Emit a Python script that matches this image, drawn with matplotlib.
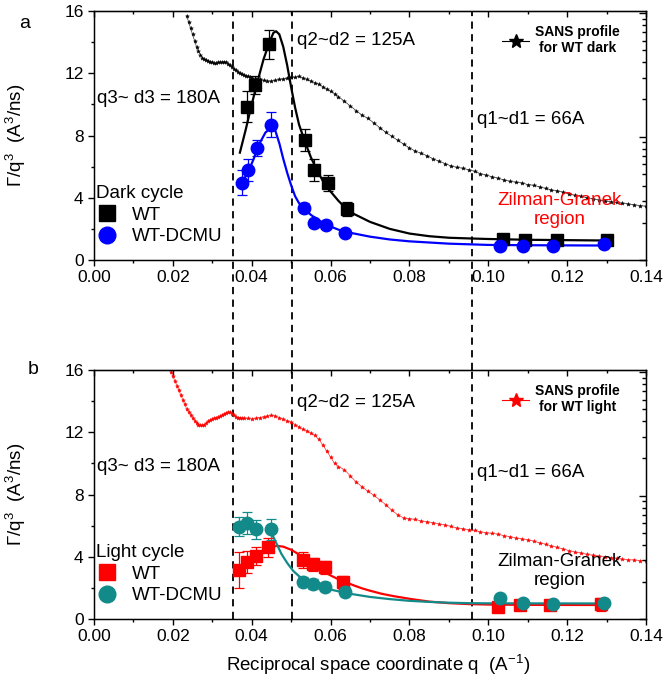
import matplotlib
matplotlib.use("Agg")
import matplotlib.pyplot as plt
from matplotlib.lines import Line2D
from matplotlib.ticker import AutoMinorLocator, LogLocator, NullFormatter

plt.rcParams['font.family'] = ['Liberation Sans', 'DejaVu Sans']
plt.rcParams['mathtext.fontset'] = 'custom'
plt.rcParams['mathtext.rm'] = 'Liberation Sans'
plt.rcParams['mathtext.it'] = 'Liberation Sans'
plt.rcParams['mathtext.default'] = 'regular'

# ---------------- Panel a : dark cycle ----------------
wt_dark_q = [0.0387, 0.0408, 0.0444, 0.0535, 0.0559, 0.0593, 0.0641, 0.1036, 0.1094, 0.1173, 0.1300]
wt_dark_y = [9.85, 11.25, 13.85, 7.7, 5.8, 4.95, 3.25, 1.33, 1.28, 1.28, 1.3]
wt_dark_err = [1.0, 0.6, 0.95, 0.7, 0.7, 0.5, 0.45, 0.15, 0.15, 0.15, 0.15]

dcmu_dark_q = [0.0375, 0.0391, 0.0413, 0.0449, 0.0533, 0.0558, 0.0588, 0.0637, 0.1030, 0.1087, 0.1165, 0.1293]
dcmu_dark_y = [4.97, 5.78, 7.18, 8.68, 3.36, 2.4, 2.25, 1.76, 0.88, 0.88, 0.88, 1.0]
dcmu_dark_err = [0.8, 0.7, 0.5, 0.8, 0.3, 0.25, 0.2, 0.2, 0.1, 0.1, 0.1, 0.15]

fit_wt_dark_q = [0.0370, 0.0385, 0.0400, 0.0415, 0.0430, 0.0445, 0.0455, 0.0462, 0.0470, 0.0480,
                 0.0490, 0.0500, 0.0510, 0.0520, 0.0535, 0.0550, 0.0565, 0.0580, 0.0600, 0.0620,
                 0.0640, 0.0660, 0.0680, 0.0700, 0.0750, 0.0800, 0.0850, 0.0900, 0.0960, 0.1000,
                 0.1100, 0.1310]
fit_wt_dark_y = [6.9, 8.4, 10.0, 11.5, 12.9, 14.0, 14.6, 14.7, 14.5, 13.7,
                 12.5, 11.1, 9.8, 8.7, 7.6, 6.6, 5.8, 5.1, 4.4, 3.8,
                 3.3, 2.95, 2.7, 2.45, 2.0, 1.7, 1.53, 1.43, 1.38, 1.35,
                 1.3, 1.25]

fit_dcmu_dark_q = [0.0375, 0.0390, 0.0405, 0.0420, 0.0435, 0.0450, 0.0460, 0.0470, 0.0480, 0.0490,
                   0.0500, 0.0510, 0.0520, 0.0535, 0.0550, 0.0570, 0.0590, 0.0620, 0.0650, 0.0700,
                   0.0750, 0.0800, 0.0900, 0.1000, 0.1100, 0.1300]
fit_dcmu_dark_y = [5.0, 5.6, 6.5, 7.5, 8.2, 8.5, 8.3, 7.5, 6.5, 5.6,
                   4.8, 4.1, 3.65, 3.25, 2.9, 2.55, 2.25, 1.95, 1.75, 1.5,
                   1.32, 1.2, 1.05, 0.97, 0.95, 0.93]

sans_dark_q = [0.0235, 0.0240, 0.0245, 0.0250, 0.0255, 0.0260, 0.0265, 0.0270, 0.0275, 0.0280,
               0.0285, 0.0290, 0.0295, 0.0300, 0.0305, 0.0310, 0.0315, 0.0320, 0.0325, 0.0330,
               0.0335, 0.0340, 0.0345, 0.0350, 0.0355, 0.0360, 0.0365, 0.0370, 0.0375, 0.0380,
               0.0385, 0.0390, 0.0395, 0.0400, 0.0410, 0.0420, 0.0430, 0.0440, 0.0450, 0.0460,
               0.0470, 0.0480, 0.0490, 0.0500, 0.0510, 0.0520, 0.0530, 0.0540, 0.0550, 0.0560,
               0.0570, 0.0580, 0.0590, 0.0600, 0.0610, 0.0620, 0.0635, 0.0650, 0.0665, 0.0680,
               0.0695, 0.0710, 0.0725, 0.0740, 0.0755, 0.0770, 0.0785, 0.0800, 0.0815, 0.0830,
               0.0845, 0.0860, 0.0875, 0.0890, 0.0905, 0.0920, 0.0935, 0.0950, 0.0965, 0.0980,
               0.0995, 0.1010, 0.1025, 0.1040, 0.1055, 0.1070, 0.1085, 0.1100, 0.1115, 0.1130,
               0.1145, 0.1160, 0.1175, 0.1190, 0.1205, 0.1220, 0.1235, 0.1250, 0.1265, 0.1280,
               0.1295, 0.1310, 0.1325, 0.1340, 0.1355, 0.1370, 0.1385, 0.1400]
sans_dark_y = [15.7, 15.3, 14.9, 14.5, 14.1, 13.7, 13.4, 13.2, 13.0, 12.9,
               12.85, 12.8, 12.75, 12.7, 12.65, 12.65, 12.7, 12.7, 12.7, 12.75,
               12.7, 12.6, 12.5, 12.4, 12.3, 12.2, 12.1, 12.0, 11.95, 11.9,
               11.85, 11.8, 11.75, 11.7, 11.65, 11.6, 11.55, 11.5, 11.5, 11.55,
               11.6, 11.65, 11.7, 11.75, 11.75, 11.8, 11.7, 11.6, 11.5, 11.4,
               11.3, 11.15, 11.0, 10.85, 10.7, 10.5, 10.2, 9.9, 9.6, 9.3,
               9.1, 8.8, 8.5, 8.2, 7.95, 7.7, 7.45, 7.2, 7.0, 6.85,
               6.7, 6.5, 6.35, 6.2, 6.05, 5.95, 5.9, 5.8, 5.7, 5.55,
               5.45, 5.35, 5.25, 5.15, 5.05, 5.0, 4.95, 4.85, 4.8, 4.7,
               4.6, 4.5, 4.45, 4.35, 4.25, 4.15, 4.1, 4.0, 3.95, 3.85,
               3.8, 3.75, 3.7, 3.65, 3.6, 3.55, 3.5, 3.45]

# ---------------- Panel b : light cycle ----------------
wt_light_q = [0.0368, 0.0387, 0.0411, 0.0442, 0.0531, 0.0555, 0.0586, 0.0632, 0.1025, 0.1080, 0.1157, 0.1286]
wt_light_y = [3.15, 3.68, 4.05, 4.6, 3.79, 3.51, 3.32, 2.36, 0.79, 0.9, 0.9, 0.94]
wt_light_err = [1.15, 0.7, 0.6, 0.6, 0.5, 0.4, 0.4, 0.4, 0.2, 0.2, 0.2, 0.4]

dcmu_light_q = [0.0368, 0.0389, 0.0411, 0.0448, 0.0529, 0.0555, 0.0586, 0.0637, 0.1030, 0.1087, 0.1165, 0.1293]
dcmu_light_y = [5.93, 6.15, 5.76, 5.76, 2.4, 2.25, 2.08, 1.76, 1.33, 1.05, 0.96, 1.05]
dcmu_light_err = [0.6, 0.7, 0.6, 0.7, 0.3, 0.3, 0.3, 0.3, 0.15, 0.15, 0.15, 0.2]

fit_wt_light_q = [0.0450, 0.0465, 0.0480, 0.0500, 0.0520, 0.0540, 0.0560, 0.0580, 0.0600, 0.0620,
                  0.0640, 0.0660, 0.0680, 0.0700, 0.0730, 0.0760, 0.0800, 0.0850, 0.0900, 0.0950,
                  0.1000, 0.1100, 0.1300]
fit_wt_light_y = [4.65, 4.7, 4.65, 4.45, 4.15, 3.8, 3.45, 3.1, 2.8, 2.55,
                  2.35, 2.15, 1.97, 1.82, 1.62, 1.47, 1.3, 1.12, 1.02, 0.96,
                  0.93, 0.91, 0.9]

fit_dcmu_light_q = [0.0445, 0.0460, 0.0475, 0.0490, 0.0505, 0.0520, 0.0535, 0.0550, 0.0570, 0.0590,
                    0.0620, 0.0650, 0.0700, 0.0750, 0.0800, 0.0850, 0.0900, 0.0950, 0.1000, 0.1300]
fit_dcmu_light_y = [5.8, 5.0, 4.2, 3.6, 3.1, 2.75, 2.5, 2.3, 2.1, 1.95,
                    1.78, 1.62, 1.42, 1.28, 1.17, 1.1, 1.05, 1.02, 1.01, 1.0]

sans_light_q = [0.0195, 0.0200, 0.0205, 0.0210, 0.0215, 0.0220, 0.0225, 0.0230, 0.0235, 0.0240,
                0.0245, 0.0250, 0.0255, 0.0260, 0.0265, 0.0270, 0.0275, 0.0280, 0.0285, 0.0290,
                0.0295, 0.0300, 0.0305, 0.0310, 0.0315, 0.0320, 0.0325, 0.0330, 0.0335, 0.0340,
                0.0345, 0.0350, 0.0355, 0.0360, 0.0365, 0.0370, 0.0375, 0.0380, 0.0390, 0.0400,
                0.0410, 0.0420, 0.0430, 0.0440, 0.0450, 0.0460, 0.0470, 0.0480, 0.0490, 0.0500,
                0.0510, 0.0520, 0.0530, 0.0540, 0.0550, 0.0560, 0.0570, 0.0580, 0.0590, 0.0600,
                0.0610, 0.0620, 0.0635, 0.0650, 0.0665, 0.0680, 0.0695, 0.0710, 0.0725, 0.0740,
                0.0755, 0.0770, 0.0785, 0.0800, 0.0815, 0.0830, 0.0845, 0.0860, 0.0875, 0.0890,
                0.0905, 0.0920, 0.0935, 0.0950, 0.0965, 0.0980, 0.0995, 0.1010, 0.1025, 0.1040,
                0.1055, 0.1070, 0.1085, 0.1100, 0.1115, 0.1130, 0.1145, 0.1160, 0.1175, 0.1190,
                0.1205, 0.1220, 0.1235, 0.1250, 0.1265, 0.1280, 0.1295, 0.1310, 0.1325, 0.1340,
                0.1355, 0.1370, 0.1385, 0.1400]
sans_light_y = [15.9, 15.6, 15.3, 15.0, 14.7, 14.4, 14.1, 13.8, 13.5, 13.3,
                13.1, 12.9, 12.75, 12.6, 12.5, 12.45, 12.45, 12.5, 12.6, 12.7,
                12.8, 12.85, 12.9, 12.95, 13.0, 13.05, 13.1, 13.2, 13.25, 13.3,
                13.3, 13.2, 13.1, 13.0, 12.95, 12.95, 12.9, 12.9, 12.9, 12.85,
                12.9, 12.95, 13.0, 13.05, 13.1, 13.05, 12.95, 12.85, 12.75, 12.65,
                12.5, 12.35, 12.2, 12.1, 11.95, 11.8, 11.55, 11.2, 10.8, 10.4,
                10.0, 9.8, 9.6, 9.2, 8.8, 8.5, 8.2, 7.95, 7.65, 7.35,
                7.0, 6.7, 6.5, 6.45, 6.4, 6.3, 6.25, 6.2, 6.1, 6.05,
                5.95, 5.85, 5.8, 5.75, 5.7, 5.6, 5.55, 5.5, 5.45, 5.35,
                5.3, 5.2, 5.15, 5.1, 5.0, 4.9, 4.8, 4.7, 4.6, 4.5,
                4.4, 4.3, 4.25, 4.15, 4.1, 4.05, 4.0, 3.95, 3.9, 3.85,
                3.8, 3.8, 3.75, 3.75]

d_lines = [0.0352, 0.0502, 0.0959]
x_ticks = [0.00, 0.02, 0.04, 0.06, 0.08, 0.10, 0.12, 0.14]
y_ticks = [0, 4, 8, 12, 16]

BLUE = '#0000ff'
RED = '#ff0000'
TEAL = '#138a8a'

fig = plt.figure(figsize=(6.66, 6.81), dpi=100)
ax_a = fig.add_axes([0.1411, 0.6182, 0.829, 0.3656])
ax_b = fig.add_axes([0.1411, 0.0910, 0.829, 0.3656])

TICK_FS = 12.5
ANN_FS = 13.5


def style_axes(ax):
    ax.set_xlim(0, 0.14)
    ax.set_ylim(0, 16)
    ax.set_xticks(x_ticks)
    ax.set_xticklabels(['%.2f' % v for v in x_ticks])
    ax.set_yticks(y_ticks)
    ax.xaxis.set_minor_locator(AutoMinorLocator(2))
    ax.yaxis.set_minor_locator(AutoMinorLocator(2))
    ax.tick_params(which='major', direction='out', length=4.5, width=1, labelsize=TICK_FS, pad=3)
    ax.tick_params(which='minor', direction='out', length=2.5, width=1)
    for s in ax.spines.values():
        s.set_linewidth(1.0)
    sec = ax.secondary_xaxis('top')
    sec.set_xticks(x_ticks)
    sec.xaxis.set_minor_locator(AutoMinorLocator(2))
    sec.tick_params(which='major', direction='in', length=4.5, width=1, labeltop=False)
    sec.tick_params(which='minor', direction='in', length=2.5, width=1)
    sec.set_xticklabels([])
    tw = ax.twinx()
    tw.set_yscale('log')
    tw.set_ylim(1, 104)
    tw.yaxis.set_major_locator(LogLocator(base=10))
    tw.yaxis.set_minor_locator(LogLocator(base=10, subs=range(2, 10)))
    tw.yaxis.set_major_formatter(NullFormatter())
    tw.yaxis.set_minor_formatter(NullFormatter())
    tw.tick_params(which='major', direction='in', length=5, width=1)
    tw.tick_params(which='minor', direction='in', length=3, width=1)
    ax.set_ylabel('Γ/q$^3$  (A$^3$/ns)', fontsize=ANN_FS)
    ax.yaxis.set_label_coords(-0.12, 0.5)


style_axes(ax_a)
style_axes(ax_b)

gap = (0.6182 - (0.0910 + 0.3656)) / 0.3656
for q in d_lines:
    ax_a.axvline(q, ymin=-gap, ymax=1, color='black', ls=(0, (4, 3)), lw=1.3, clip_on=False, zorder=1)
    ax_b.axvline(q, ymin=0, ymax=1, color='black', ls=(0, (4, 3)), lw=1.3, zorder=1)

# ---- panel a ----
ax_a.plot(sans_dark_q, sans_dark_y, color='black', lw=0.4, marker='*', ms=3.0, mew=0.3, zorder=2)
ax_a.plot(fit_wt_dark_q, fit_wt_dark_y, color='black', lw=1.6, zorder=3)
ax_a.plot(fit_dcmu_dark_q, fit_dcmu_dark_y, color=BLUE, lw=1.6, zorder=3)
ax_a.errorbar(wt_dark_q, wt_dark_y, yerr=wt_dark_err, fmt='s', color='black', ms=8.5,
              capsize=3.5, elinewidth=0.9, capthick=0.9, zorder=4)
ax_a.errorbar(dcmu_dark_q, dcmu_dark_y, yerr=dcmu_dark_err, fmt='o', color=BLUE, ms=9,
              capsize=3.5, elinewidth=0.9, capthick=0.9, zorder=4)

h_sq = Line2D([], [], ls='none', marker='s', color='black', ms=11)
h_ci = Line2D([], [], ls='none', marker='o', color=BLUE, ms=12)
leg1 = ax_a.legend([h_sq, h_ci], ['WT', 'WT-DCMU'], title='Dark cycle', loc='upper left',
                   bbox_to_anchor=(-0.02, 0.355), frameon=False, fontsize=ANN_FS,
                   title_fontsize=ANN_FS, alignment='left', handletextpad=0.7,
                   labelspacing=0.25, borderpad=0.2, handlelength=1.2)
ax_a.add_artist(leg1)
h_star = Line2D([], [], color='black', lw=0.8, marker='*', ms=10)
leg2 = ax_a.legend([h_star], ['SANS profile\nfor WT dark'], loc='upper right',
                   bbox_to_anchor=(0.975, 0.995), frameon=False,
                   prop={'size': 10, 'weight': 'bold'}, handlelength=2.0, handletextpad=0.4)
for t in leg2.get_texts():
    t.set_multialignment('center')

ax_a.text(0.0515, 14.1, 'q2~d2 = 125A', fontsize=ANN_FS, va='center')
ax_a.text(0.0008, 10.4, 'q3~ d3 = 180A', fontsize=ANN_FS, va='center')
ax_a.text(0.0972, 9.05, 'q1~d1 = 66A', fontsize=ANN_FS, va='center')
ax_a.text(0.118, 3.2, 'Zilman-Granek\nregion', fontsize=ANN_FS, color=RED, ha='center',
          va='center', linespacing=1.15)
fig.text(25 / 666, 1 - 23 / 681, 'a', fontsize=14, ha='center', va='center')

# ---- panel b ----
ax_b.plot(sans_light_q, sans_light_y, color=RED, lw=0.4, marker='*', ms=3.0, mew=0.3, zorder=2)
ax_b.plot(fit_wt_light_q, fit_wt_light_y, color=RED, lw=1.6, zorder=3)
ax_b.plot(fit_dcmu_light_q, fit_dcmu_light_y, color=TEAL, lw=1.6, zorder=3)
ax_b.errorbar(wt_light_q, wt_light_y, yerr=wt_light_err, fmt='s', color=RED, ms=8.5,
              capsize=3.5, elinewidth=0.9, capthick=0.9, zorder=4)
ax_b.errorbar(dcmu_light_q, dcmu_light_y, yerr=dcmu_light_err, fmt='o', color=TEAL, ms=9,
              capsize=3.5, elinewidth=0.9, capthick=0.9, zorder=5)

h_sq2 = Line2D([], [], ls='none', marker='s', color=RED, ms=11)
h_ci2 = Line2D([], [], ls='none', marker='o', color=TEAL, ms=12)
leg3 = ax_b.legend([h_sq2, h_ci2], ['WT', 'WT-DCMU'], title='Light cycle', loc='upper left',
                   bbox_to_anchor=(-0.02, 0.355), frameon=False, fontsize=ANN_FS,
                   title_fontsize=ANN_FS, alignment='left', handletextpad=0.7,
                   labelspacing=0.25, borderpad=0.2, handlelength=1.2)
ax_b.add_artist(leg3)
h_star2 = Line2D([], [], color=RED, lw=0.8, marker='*', ms=10)
leg4 = ax_b.legend([h_star2], ['SANS profile\nfor WT light'], loc='upper right',
                   bbox_to_anchor=(0.975, 0.995), frameon=False,
                   prop={'size': 10, 'weight': 'bold'}, handlelength=2.0, handletextpad=0.4)
for t in leg4.get_texts():
    t.set_multialignment('center')

ax_b.text(0.0515, 13.9, 'q2~d2 = 125A', fontsize=ANN_FS, va='center')
ax_b.text(0.0008, 9.8, 'q3~ d3 = 180A', fontsize=ANN_FS, va='center')
ax_b.text(0.0972, 9.4, 'q1~d1 = 66A', fontsize=ANN_FS, va='center')
ax_b.text(0.118, 3.1, 'Zilman-Granek\nregion', fontsize=ANN_FS, color='black', ha='center',
          va='center', linespacing=1.15)
fig.text(33 / 666, 1 - 370 / 681, 'b', fontsize=14, ha='center', va='center')

ax_b.set_xlabel('Reciprocal space coordinate q  (A$^{-1}$)', fontsize=ANN_FS)
ax_b.xaxis.set_label_coords(0.514, -0.135)

fig.savefig('out.png', dpi=100)
